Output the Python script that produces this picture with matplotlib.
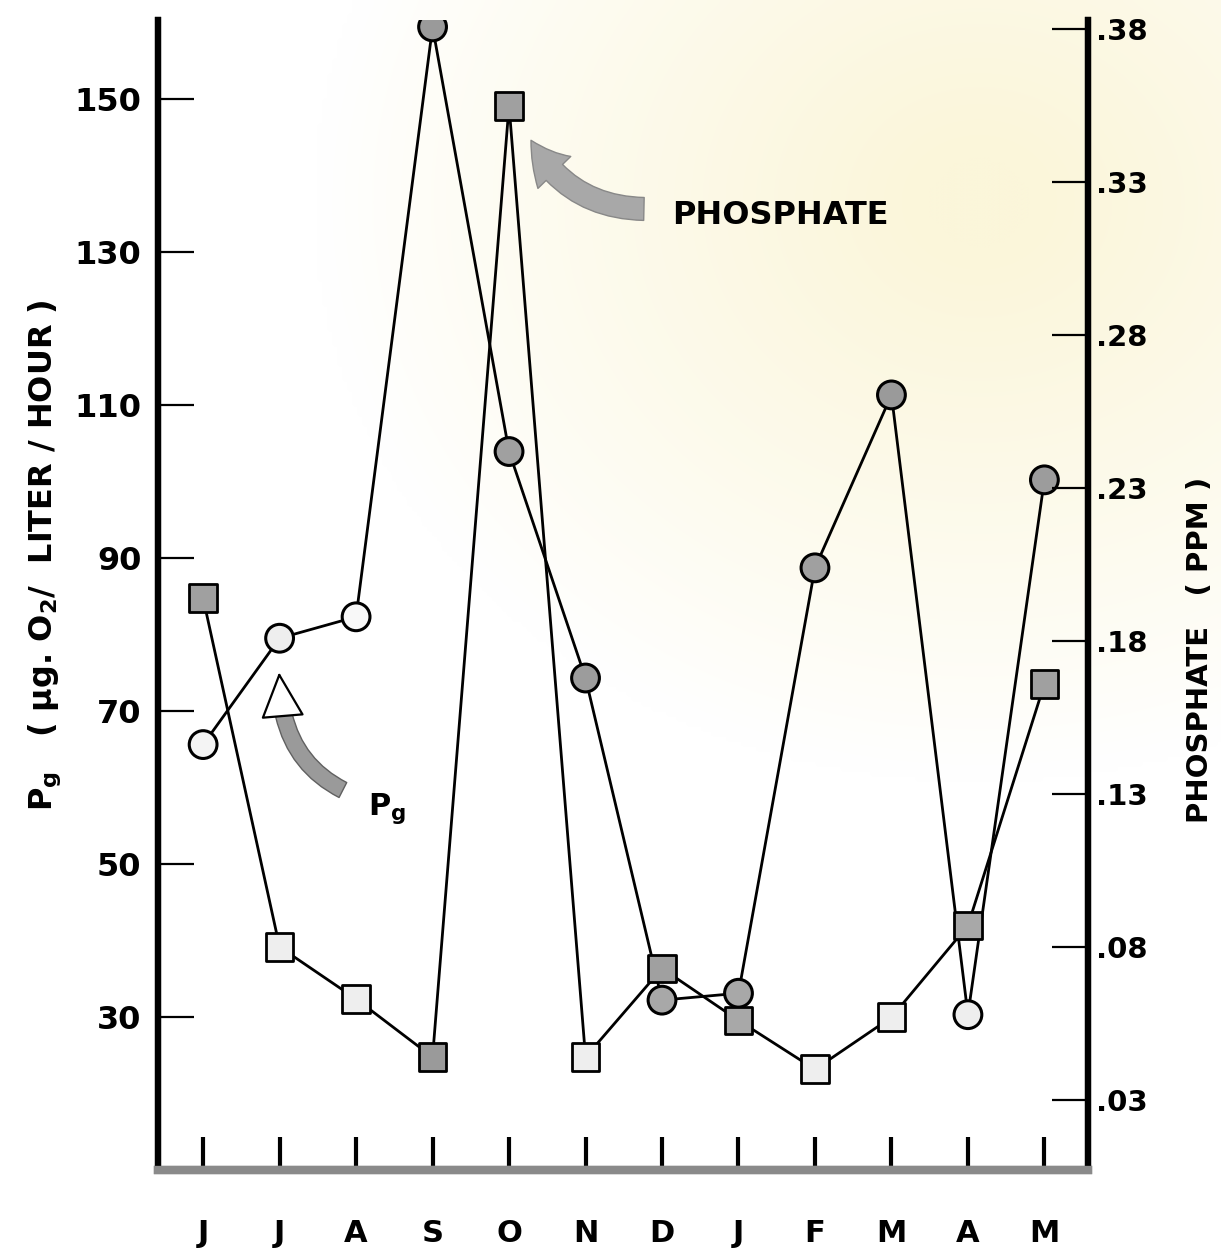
import numpy as np
import matplotlib.pyplot as plt
from matplotlib.patches import FancyArrowPatch

plt.rcParams['font.family'] = ['DejaVu Sans']
plt.rcParams['font.weight'] = 'bold'
plt.rcParams['axes.labelweight'] = 'bold'
plt.rcParams['mathtext.fontset'] = 'custom'
plt.rcParams['mathtext.rm'] = 'DejaVu Sans:bold'
plt.rcParams['mathtext.it'] = 'DejaVu Sans:bold'
plt.rcParams['mathtext.default'] = 'rm'

months = ['J', 'J', 'A', 'S', 'O', 'N', 'D', 'J', 'F', 'M', 'A', 'M']
# gross production, ug O2 / liter / hour
pg = [65.6, 79.5, 82.3, 159.4, 103.9, 74.3, 32.2, 33.1, 88.7, 111.3, 30.3, 100.2]
# phosphate, ppm
phosphate = [0.194, 0.080, 0.063, 0.044, 0.355, 0.044, 0.073, 0.056, 0.040, 0.057, 0.087, 0.166]
pg_ticks = [30, 50, 70, 90, 110, 130, 150]
po4_ticks = [0.03, 0.08, 0.13, 0.18, 0.23, 0.28, 0.33, 0.38]

# marker fills: light = speckled white, grey = shaded
pg_fill = ['#f4f4f4', '#eeeeee', '#f8f8f8', '#9a9a9a', '#a0a0a0', '#9c9c9c',
           '#a8a8a8', '#a8a8a8', '#a0a0a0', '#9a9a9a', '#eeeeee', '#9c9c9c']
po4_fill = ['#a0a0a0', '#eeeeee', '#eeeeee', '#9a9a9a', '#a0a0a0', '#eeeeee',
            '#a0a0a0', '#a8a8a8', '#eeeeee', '#eeeeee', '#a8a8a8', '#a0a0a0']

fig = plt.figure(figsize=(12.21, 12.55), dpi=100)

# yellowed paper tone toward the upper right
bg = fig.add_axes([0, 0, 1, 1], zorder=-10)
gy, gx = np.mgrid[0:1255:5, 0:1221:5]
d = np.sqrt(((gx - 980) / 600.0) ** 2 + ((gy - 200) / 520.0) ** 2)
w = np.clip(1.1 - d, 0, 1) ** 0.9
w = np.clip(w, 0, 1)
white = np.array([1.0, 1.0, 1.0])
cream = np.array([251, 246, 218]) / 255.0
img = white[None, None, :] * (1 - w[..., None]) + cream[None, None, :] * w[..., None]
bg.imshow(img, extent=[0, 1, 0, 1], aspect='auto', origin='upper', interpolation='bicubic')
bg.axis('off')

ax = fig.add_axes([158 / 1221, 85 / 1255, 930 / 1221, 1150 / 1255])
ax.patch.set_alpha(0)
ax2 = ax.twinx()

x = np.arange(len(months))
ax.plot(x, pg, color='black', lw=2.0, zorder=3)
ax.scatter(x, pg, s=400, marker='o', c=pg_fill, edgecolors='black', linewidths=2.2, zorder=4)
ax2.plot(x, phosphate, color='black', lw=2.0, zorder=3)
ax2.scatter(x, phosphate, s=400, marker='s', c=po4_fill, edgecolors='black', linewidths=2.0, zorder=4)

ax.set_xlim(-0.59, 11.57)
ax.set_ylim(10, 160.3)
ax2.set_ylim(0.0071, 0.383)

ax.set_yticks(pg_ticks)
ax.set_yticklabels([str(t) for t in pg_ticks], fontsize=23)
ax2.set_yticks(po4_ticks)
ax2.set_yticklabels([('%.2f' % t)[1:] for t in po4_ticks], fontsize=21)
ax.set_xticks(x)
ax.set_xticklabels(months, fontsize=22)

ax.tick_params(axis='y', direction='in', length=26, width=1.6, pad=12)
ax2.tick_params(axis='y', direction='in', length=26, width=1.6, pad=6)
ax.tick_params(axis='x', direction='in', length=24, width=3.0, pad=35)

for a in (ax, ax2):
    a.spines['top'].set_visible(False)
    a.spines['left'].set_linewidth(4.5)
    a.spines['right'].set_linewidth(4.5)
    a.spines['bottom'].set_linewidth(6)
    a.spines['bottom'].set_color('#8a8a8a')

ax.set_ylabel(r'P$_{g}$   ( $\mu$g. O$_{2}$/  LITER / HOUR )', fontsize=23,
              fontweight='bold', va='center')
ax.yaxis.set_label_coords(-0.122, 0.535)
ax2.set_ylabel('PHOSPHATE   ( PPM )', fontsize=21, fontweight='bold', va='center',
               rotation=90)
ax2.yaxis.set_label_coords(1.12, 0.452)

# curved pointer to the phosphate curve
arr1 = FancyArrowPatch((5.80, 135.6), (4.27, 144.9),
                       connectionstyle='arc3,rad=-0.3',
                       arrowstyle='simple,head_width=1.5,head_length=1.3,tail_width=0.75',
                       mutation_scale=22, fc='#a8a8a8', ec='#888888', lw=1, zorder=5)
ax.add_patch(arr1)
ax.text(6.13, 134.8, 'PHOSPHATE', fontsize=23, va='center', ha='left')

# curved pointer to the Pg curve: grey shaft, open head
shaft = FancyArrowPatch((1.86, 59.5), (1.04, 70.2),
                        connectionstyle='arc3,rad=-0.25',
                        arrowstyle='simple,head_width=0.55,head_length=0.1,tail_width=0.55',
                        mutation_scale=22, fc='#9a9a9a', ec='#606060', lw=1, zorder=5)
ax.add_patch(shaft)
head = FancyArrowPatch((1.03, 70.6), (0.99, 75.4),
                       arrowstyle='-|>,head_length=1.35,head_width=0.65',
                       mutation_scale=22, fc='white', ec='black', lw=1.6, zorder=6)
ax.add_patch(head)
ax.text(2.16, 57.2, r'P$_{g}$', fontsize=22, va='center', ha='left')

fig.savefig('out.png', dpi=100)
